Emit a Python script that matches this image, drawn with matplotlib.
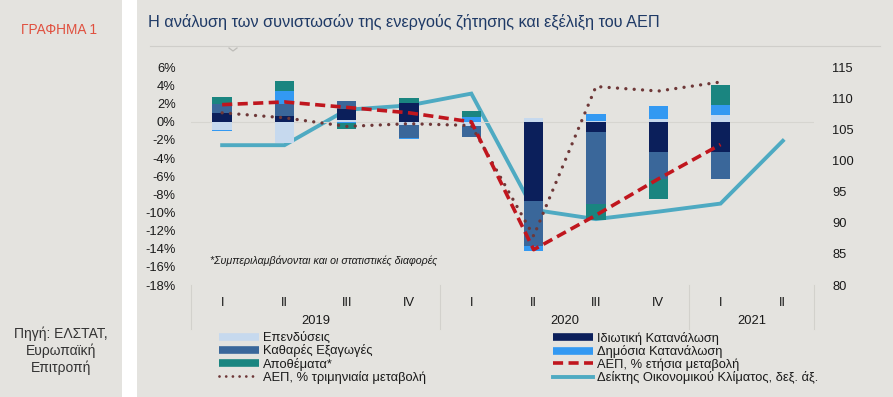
import numpy as np
import matplotlib
matplotlib.use("Agg")
import matplotlib.pyplot as plt
from matplotlib.lines import Line2D
from matplotlib.patches import Rectangle

plt.rcParams['font.family'] = ['Liberation Sans', 'DejaVu Sans']

# ---------------- data ----------------
quarter_labels = ['I', 'II', 'III', 'IV', 'I', 'II', 'III', 'IV', 'I', 'II']
years = ['2019', '2020', '2021']
year_spans = [(0, 3), (4, 7), (8, 9)]

nan = np.nan
investment   = [-0.85, -2.3, 0.2, -0.35, -0.4, 0.45, 0.1, 0.35, 0.8, nan]   # Επενδύσεις
private_cons = [1.0, 0.65, 1.2, 2.05, 0.0, -8.75, -1.1, -3.3, -3.3, nan]     # Ιδιωτική Κατανάλωση
net_exports  = [1.0, 1.3, 0.9, -1.4, -1.3, -4.95, -7.95, -3.05, -3.05, nan]  # Καθαρές Εξαγωγές
public_cons  = [-0.15, 1.5, -0.15, -0.1, 0.55, -0.6, 0.8, 1.35, 1.05, nan]   # Δημόσια Κατανάλωση
inventories  = [0.8, 1.1, -0.6, 0.6, 0.6, 0.0, -1.8, -2.2, 2.25, nan]        # Αποθέματα*

gdp_yoy = [1.9, 2.2, 1.6, 1.0, 0.0, -14.1, -10.3, -6.3, -2.5, nan]
gdp_qoq = [1.0, 0.45, -0.5, -0.2, -0.4, -12.6, 3.9, 3.4, 4.4, nan]
esi     = [102.5, 102.5, 108.2, 108.9, 110.8, 92.1, 90.6, 91.8, 93.1, 103.2]

left_ticks = list(range(-18, 7, 2))
right_ticks = list(range(80, 116, 5))

# ---------------- styles ----------------
BG = '#E4E3DF'
c_inv = '#C6D9EE'
c_priv = '#0B1F5B'
c_net = '#3A679A'
c_pub = '#3399F2'
c_invt = '#1A8580'
c_red = '#C0161E'
c_dot = '#6E3838'
c_esi = '#4EAAC2'
TXT = '#1A1A1A'

W, H = 893, 397
fig = plt.figure(figsize=(W / 100, H / 100), dpi=100, facecolor=BG)
fig.patches.append(Rectangle((122 / W, 0), 15 / W, 1, transform=fig.transFigure,
                             facecolor='white', edgecolor='none', zorder=0))

ax = fig.add_axes([191 / W, 1 - 285 / H, (814 - 191) / W, (285 - 67.5) / H])
ax.set_facecolor(BG)
for s in ax.spines.values():
    s.set_visible(False)

x = np.arange(len(quarter_labels))
series = [(investment, c_inv), (private_cons, c_priv), (net_exports, c_net),
          (public_cons, c_pub), (inventories, c_invt)]
pos_base = np.zeros(len(x))
neg_base = np.zeros(len(x))
bw = 0.31
for vals, col in series:
    v = np.nan_to_num(np.array(vals, dtype=float))
    bottoms = np.where(v >= 0, pos_base, neg_base)
    ax.bar(x, v, bw, bottom=bottoms, color=col, edgecolor='none', zorder=2)
    pos_base = pos_base + np.where(v > 0, v, 0)
    neg_base = neg_base + np.where(v < 0, v, 0)

ax.axhline(0, color='#D6D5D0', lw=0.8, zorder=1)

ax.plot(x, gdp_qoq, color=c_dot, lw=2.4, linestyle=(0, (0.01, 2.5)),
        dash_capstyle='round', zorder=4)
ax.plot(x, gdp_yoy, color=c_red, lw=2.6, linestyle=(0, (2.8, 1.5)), zorder=5)

ax.set_xlim(-0.5, 9.5)
ax.set_ylim(-18, 6)
ax.set_yticks(left_ticks)
ax.set_yticklabels([f'{t}%' for t in left_ticks])
ax.set_xticks(x)
ax.set_xticklabels(quarter_labels)
ax.tick_params(axis='both', length=0, labelsize=9.3, colors=TXT)
ax.tick_params(axis='y', pad=11)
ax.tick_params(axis='x', pad=9)

ax2 = ax.twinx()
for s in ax2.spines.values():
    s.set_visible(False)
ax2.plot(x, esi, color=c_esi, lw=2.8, zorder=3, solid_joinstyle='miter')
ax2.set_ylim(80, 115)
ax2.set_yticks(right_ticks)
ax2.tick_params(axis='y', length=0, labelsize=9.3, colors=TXT, pad=13)
ax.set_zorder(ax2.get_zorder() + 1)
ax.patch.set_visible(False)
ax2.patch.set_visible(False)

# year labels and separators
xt = ax.get_xaxis_transform()
for (a, b), yl in zip(year_spans, years):
    ax.text((a + b) / 2, -0.165, yl, transform=xt, ha='center', va='center',
            fontsize=9.3, color=TXT)
for sx in [-0.5, 3.5, 7.5, 9.5]:
    ax.plot([sx, sx], [0, -0.2], transform=xt, color='#D2D1CC', lw=0.8, clip_on=False)

ax.text(-0.2, -15.3, '*Συμπεριλαμβάνονται και οι στατιστικές διαφορές', fontsize=7.7,
        style='italic', color=TXT, va='center', ha='left')

# title and side texts
fig.text(148 / W, 1 - 22 / H, 'Η ανάλυση των συνιστωσών της ενεργούς ζήτησης και εξέλιξη του ΑΕΠ',
         fontsize=11.7, color='#1F3A66', va='center', ha='left')
fig.add_artist(Line2D([150 / W, 880 / W], [1 - 46 / H, 1 - 46 / H], transform=fig.transFigure,
                      color='#CFCECA', lw=0.8))
fig.add_artist(Line2D([229 / W, 233 / W, 237 / W], [1 - 48 / H, 1 - 51 / H, 1 - 48 / H],
                      transform=fig.transFigure, color='#BDBCB8', lw=0.9))
fig.text(59 / W, 1 - 30 / H, 'ΓΡΑΦΗΜΑ 1', fontsize=9.8, color='#E0503F', ha='center', va='center')
fig.text(61 / W, 1 - 351 / H, 'Πηγή: ΕΛΣΤΑΤ,\nΕυρωπαϊκή\nΕπιτροπή', fontsize=10,
         color='#333333', ha='center', va='center', linespacing=1.2)

# legends
def bar_handle(c):
    return Line2D([], [], color=c, lw=5.5, solid_capstyle='butt')

left_handles = [bar_handle(c_inv), bar_handle(c_net), bar_handle(c_invt),
                Line2D([], [], color=c_dot, lw=2.0, linestyle=(0, (0.01, 2.4)), dash_capstyle='round')]
left_labels = ['Επενδύσεις', 'Καθαρές Εξαγωγές', 'Αποθέματα*', 'ΑΕΠ, % τριμηνιαία μεταβολή']
right_handles = [bar_handle(c_priv), bar_handle(c_pub),
                 Line2D([], [], color=c_red, lw=2.6, linestyle=(0, (2.8, 1.5))),
                 Line2D([], [], color=c_esi, lw=2.8)]
right_labels = ['Ιδιωτική Κατανάλωση', 'Δημόσια Κατανάλωση', 'ΑΕΠ, % ετήσια μεταβολή',
                'Δείκτης Οικονομικού Κλίματος, δεξ. άξ.']
common = dict(loc='upper left', frameon=False, fontsize=9.3, borderpad=0, borderaxespad=0,
              handlelength=3.1, handletextpad=0.3, labelspacing=0.02, labelcolor=TXT)
fig.legend(left_handles, left_labels, bbox_to_anchor=(219 / W, 1 - 332 / H), **common)
fig.legend(right_handles, right_labels, bbox_to_anchor=(553 / W, 1 - 332 / H), **common)

fig.savefig('out.png', dpi=100, facecolor=BG)
